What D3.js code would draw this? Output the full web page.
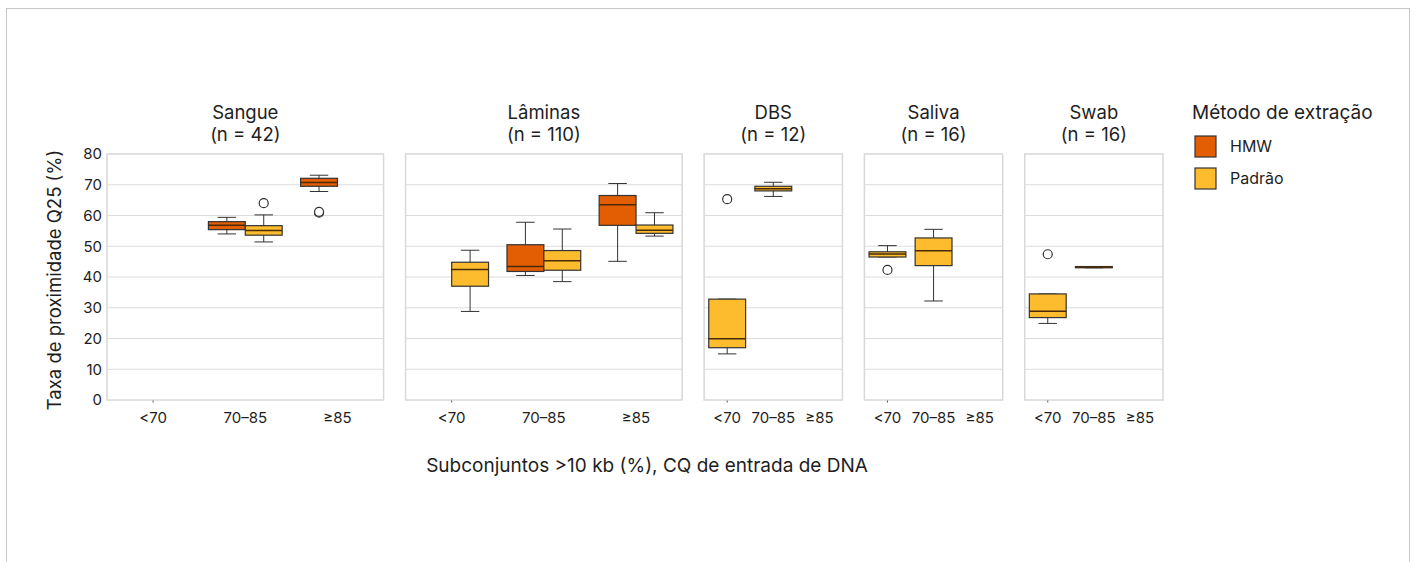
<!DOCTYPE html>
<html>
<head>
<meta charset="utf-8">
<script src="https://cdn.jsdelivr.net/npm/d3@7"></script>
<style>
  body { margin: 0; background: #fff; }
  svg text { font-family: Inter, "Noto Sans", sans-serif; fill: #1e1e1e; }
</style>
</head>
<body>
<div id="root"></div>
<script>
const width = 1416;
const height = 562;

// panels (sample types) and their counts
const panels = ["Sangue", "Lâminas", "DBS", "Saliva", "Swab"];
const panelN = [42, 110, 12, 16, 16];
const categories = ["<70", "70–85", "≥85"];
const methods = ["HMW", "Padrão"];
const methodColors = ["#e35e02", "#fdbc2e"];
const yTicks = [0, 10, 20, 30, 40, 50, 60, 70, 80];

// box statistics, one entry per box
const boxPanel    = ["Sangue", "Sangue", "Sangue", "Lâminas", "Lâminas", "Lâminas", "Lâminas", "Lâminas", "DBS", "DBS", "Saliva", "Saliva", "Swab", "Swab"];
const boxCategory = ["70–85", "70–85", "≥85", "<70", "70–85", "70–85", "≥85", "≥85", "<70", "70–85", "<70", "70–85", "<70", "70–85"];
const boxMethod   = ["HMW", "Padrão", "HMW", "Padrão", "HMW", "Padrão", "HMW", "Padrão", "Padrão", "Padrão", "Padrão", "Padrão", "Padrão", "Padrão"];
const whiskerLow  = [54.0, 51.4, 67.8, 28.8, 40.5, 38.5, 45.1, 53.3, 15.0, 66.2, 46.5, 32.2, 24.9, 43.0];
const q1          = [55.4, 53.6, 69.5, 37.0, 41.8, 42.2, 56.8, 54.2, 17.0, 68.0, 46.5, 43.7, 26.8, 43.0];
const median      = [56.8, 55.1, 70.7, 42.4, 43.4, 45.3, 63.5, 55.2, 19.9, 68.7, 47.5, 48.5, 28.9, 43.2];
const q3          = [58.0, 56.7, 72.1, 44.8, 50.5, 48.6, 66.5, 56.9, 32.8, 69.5, 48.2, 52.7, 34.5, 43.4];
const whiskerHigh = [59.4, 60.2, 73.1, 48.7, 57.8, 55.6, 70.4, 60.9, 32.8, 70.8, 50.2, 55.5, 34.5, 43.4];
const outliers    = [[], [64.0], [60.9, 61.2], [], [], [], [], [], [65.3], [], [42.3], [], [47.4], []];

const boxes = boxPanel.map((p, i) => ({
	panel: p, category: boxCategory[i], method: boxMethod[i],
	low: whiskerLow[i], q1: q1[i], median: median[i], q3: q3[i], high: whiskerHigh[i],
	outliers: outliers[i]
}));

const plot = { left: 107, right: 1163, top: 154, bottom: 400 };
const gap = 22;

const svg = d3.select("#root")
	.append("svg")
		.attr("width", width)
		.attr("height", height);

// outer frame
svg.append("rect")
	.attr("x", 6.5).attr("y", 8.5)
	.attr("width", 1403).attr("height", 600)
	.style("fill", "none")
	.style("stroke", "#c9c9c9");

const y = d3.scaleLinear().domain([0, 80]).range([plot.bottom, plot.top]);
const color = d3.scaleOrdinal().domain(methods).range(methodColors);

// panel widths follow the number of methods shown in each panel
const panelMethods = panels.map(p => methods.filter(m => boxes.some(b => b.panel === p && b.method === m)));
const slots = panelMethods.map(m => m.length);
const unit = (plot.right - plot.left - gap * (panels.length - 1)) / d3.sum(slots);

let xPos = plot.left;
panels.forEach((p, pi) => {
	const w = unit * slots[pi];
	const g = svg.append("g").attr("transform", `translate(${xPos}, 0)`);
	xPos += w + gap;

	const x = d3.scaleBand().domain(categories).range([0, w]);
	const inner = d3.scaleBand()
		.domain(panelMethods[pi])
		.range([x.bandwidth() * 0.1, x.bandwidth() * 0.9]);

	// grid
	g.selectAll(".grid")
		.data(yTicks.slice(1, -1)).enter()
		.append("line")
			.attr("x1", 0).attr("x2", w)
			.attr("y1", d => y(d)).attr("y2", d => y(d))
			.style("stroke", "#dcdcdc")
			.style("stroke-width", 1);

	g.append("rect")
		.attr("x", 0).attr("y", plot.top)
		.attr("width", w).attr("height", plot.bottom - plot.top)
		.style("fill", "none")
		.style("stroke", "#d8d8d8")
		.style("stroke-width", 1.5);

	// small tick under first category
	g.append("line")
		.attr("x1", x(categories[0]) + x.bandwidth() / 2)
		.attr("x2", x(categories[0]) + x.bandwidth() / 2)
		.attr("y1", plot.bottom + 0.5).attr("y2", plot.bottom + 2.5)
		.style("stroke", "#555");

	// panel title
	const title = g.append("text")
		.attr("x", w / 2)
		.attr("text-anchor", "middle")
		.style("font-size", "18.5px");
	title.append("tspan").attr("x", w / 2).attr("y", 119).text(p);
	title.append("tspan").attr("x", w / 2).attr("y", 141).text(`(n = ${panelN[pi]})`);

	// x labels
	g.selectAll(".xlab")
		.data(categories).enter()
		.append("text")
			.attr("x", d => x(d) + x.bandwidth() / 2)
			.attr("y", 423)
			.attr("text-anchor", "middle")
			.style("font-size", "15px")
			.text(d => d);

	// y labels on first panel
	if (pi === 0) {
		g.selectAll(".ylab")
			.data(yTicks).enter()
			.append("text")
				.attr("x", -5)
				.attr("y", d => y(d))
				.attr("dy", "0.36em")
				.attr("text-anchor", "end")
				.style("font-size", "15px")
				.text(d => d);
	}

	const items = g.selectAll(".box")
		.data(boxes.filter(b => b.panel === p)).enter()
		.append("g")
			.attr("transform", d => `translate(${x(d.category) + inner(d.method)}, 0)`);

	const bw = inner.bandwidth();
	items.append("line")
		.attr("x1", bw / 2).attr("x2", bw / 2)
		.attr("y1", d => y(d.high)).attr("y2", d => y(d.low))
		.style("stroke", "#333");
	items.append("line")
		.attr("x1", bw / 4).attr("x2", bw * 3 / 4)
		.attr("y1", d => y(d.high)).attr("y2", d => y(d.high))
		.style("stroke", "#333");
	items.append("line")
		.attr("x1", bw / 4).attr("x2", bw * 3 / 4)
		.attr("y1", d => y(d.low)).attr("y2", d => y(d.low))
		.style("stroke", "#333");
	items.append("rect")
		.attr("x", 0).attr("width", bw)
		.attr("y", d => y(d.q3))
		.attr("height", d => y(d.q1) - y(d.q3))
		.style("fill", d => color(d.method))
		.style("stroke", "#333")
		.style("stroke-width", 1.2);
	items.append("line")
		.attr("x1", 0).attr("x2", bw)
		.attr("y1", d => y(d.median)).attr("y2", d => y(d.median))
		.style("stroke", "#4a2a0a")
		.style("stroke-width", 1.5);
	items.selectAll(".out")
		.data(d => d.outliers).enter()
		.append("circle")
			.attr("cx", bw / 2)
			.attr("cy", d => y(d))
			.attr("r", 4.5)
			.style("fill", "#fff")
			.style("stroke", "#333")
			.style("stroke-width", 1.2);
});

// axis titles
svg.append("text")
	.attr("transform", `translate(61, ${(plot.top + plot.bottom) / 2 + 3}) rotate(-90)`)
	.attr("text-anchor", "middle")
	.style("font-size", "18.5px")
	.text("Taxa de proximidade Q25 (%)");

svg.append("text")
	.attr("x", 647).attr("y", 472)
	.attr("text-anchor", "middle")
	.style("font-size", "19px")
	.text("Subconjuntos >10 kb (%), CQ de entrada de DNA");

// legend
const legend = svg.append("g").attr("transform", "translate(1192, 0)");
legend.append("text")
	.attr("x", 0).attr("y", 119)
	.style("font-size", "19px")
	.text("Método de extração");
const li = legend.selectAll(".li")
	.data(methods).enter()
	.append("g")
		.attr("transform", (d, i) => `translate(3, ${136 + i * 32})`);
li.append("rect")
	.attr("width", 21).attr("height", 21)
	.style("fill", d => color(d))
	.style("stroke", "#333")
	.style("stroke-width", 1.2);
li.append("text")
	.attr("x", 35).attr("y", 16)
	.style("font-size", "16px")
	.text(d => d);
</script>
</body>
</html>
